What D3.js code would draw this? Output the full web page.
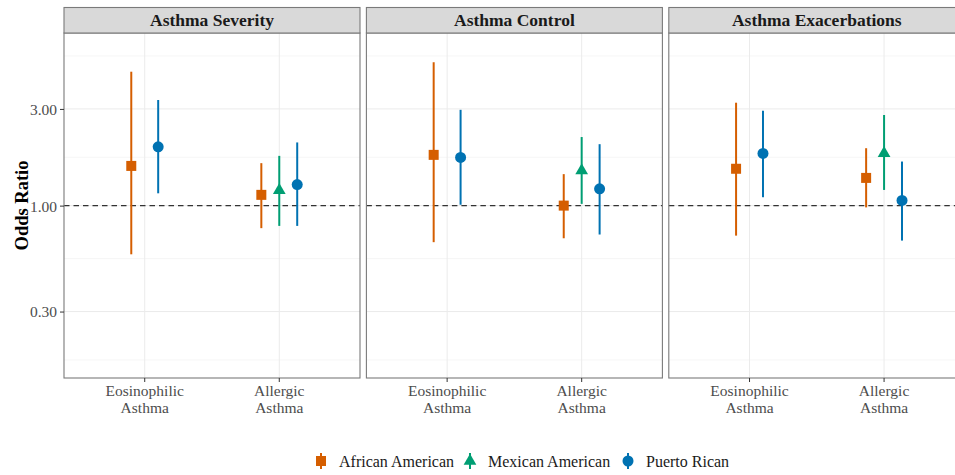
<!DOCTYPE html>
<html lang="en">
<head>
  <meta charset="UTF-8">
  <title>Odds Ratio by Asthma Phenotype</title>
  <style>
    body { margin: 0; padding: 0; background: #fff; overflow: hidden; }
    svg { display: block; font-family: "Liberation Serif", "Times New Roman", serif; }
    .grid-major { stroke: #ebebeb; stroke-width: 1; }
    .grid-minor { stroke: #f4f4f4; stroke-width: 0.8; }
    .tick-label { fill: #4d4d4d; font-size: 15.5px; }
  </style>
</head>
<body>
<div id="chart"></div>
<script src="https://d3js.org/d3.v7.min.js"></script>
<script>
  // chart data
  const panels = ["Asthma Severity", "Asthma Control", "Asthma Exacerbations"];
  const categories = ["Eosinophilic Asthma", "Allergic Asthma"];
  const categoryLabels = [["Eosinophilic", "Asthma"], ["Allergic", "Asthma"]];
  const groups = ["African American", "Mexican American", "Puerto Rican"];
  const groupColors = ["#D55E00", "#009E73", "#0072B2"];

  // one entry per estimate
  const rowPanel    = [0, 0, 0, 0, 0,   1, 1, 1, 1, 1,   2, 2, 2, 2, 2];
  const rowCategory = [0, 0, 1, 1, 1,   0, 0, 1, 1, 1,   0, 0, 1, 1, 1];
  const rowGroup    = [0, 2, 0, 1, 2,   0, 2, 0, 1, 2,   0, 2, 0, 1, 2];
  const oddsRatio   = [1.57, 1.95, 1.13, 1.19, 1.27,   1.78, 1.73, 1.00, 1.49, 1.21,   1.52, 1.81, 1.37, 1.81, 1.06];
  const lowerCI     = [0.575, 1.15, 0.774, 0.794, 0.794,   0.66, 1.01, 0.69, 1.02, 0.72,   0.711, 1.10, 0.98, 1.195, 0.672];
  const upperCI     = [4.58, 3.32, 1.62, 1.76, 2.05,   5.10, 2.97, 1.43, 2.18, 2.01,   3.22, 2.94, 1.92, 2.80, 1.65];

  const yBreaks = [0.1, 0.3, 1, 3, 10];

  const width = 955, height = 475;
  const panelLeft = 64, panelW = 296, panelGap = 6.4;
  const stripTop = 7.5, stripBottom = 33, plotBottom = 378;

  const svg = d3.select("#chart").append("svg")
      .attr("width", width)
      .attr("height", height);

  const y = d3.scaleLog()
      .domain([0.141, 7.11])
      .range([plotBottom, stripBottom]);

  const minorBreaks = d3.pairs(yBreaks).map(([a, b]) => Math.sqrt(a * b))
      .filter(v => v > y.domain()[0] && v < y.domain()[1]);
  const majorBreaks = yBreaks.filter(v => v > y.domain()[0] && v < y.domain()[1]);

  const rows = oddsRatio.map((v, i) => ({
    panel: rowPanel[i], category: rowCategory[i], group: rowGroup[i],
    or: v, lo: lowerCI[i], hi: upperCI[i]
  }));

  panels.forEach((title, p) => {
    const x0 = panelLeft + p * (panelW + panelGap);
    const g = svg.append("g").attr("transform", `translate(${x0},0)`);

    const x = d3.scalePoint()
        .domain(categories.map((c, i) => i))
        .range([0, panelW])
        .padding(0.6);
    const dodgeW = x.step() * 0.4;

    // grid
    g.selectAll(".grid-minor").data(minorBreaks).enter().append("line")
        .attr("class", "grid-minor")
        .attr("x1", 0).attr("x2", panelW)
        .attr("y1", d => y(d)).attr("y2", d => y(d));
    g.selectAll(".grid-major.h").data(majorBreaks).enter().append("line")
        .attr("class", "grid-major h")
        .attr("x1", 0).attr("x2", panelW)
        .attr("y1", d => y(d)).attr("y2", d => y(d));
    g.selectAll(".grid-major.v").data(x.domain()).enter().append("line")
        .attr("class", "grid-major v")
        .attr("x1", d => x(d)).attr("x2", d => x(d))
        .attr("y1", stripBottom).attr("y2", plotBottom);

    // reference line at OR = 1
    g.append("line")
        .attr("x1", 0).attr("x2", panelW)
        .attr("y1", y(1)).attr("y2", y(1))
        .attr("stroke", "#333")
        .attr("stroke-width", 1.4)
        .attr("stroke-dasharray", "5.5,4");

    // point ranges
    const pr = rows.filter(r => r.panel === p);
    categories.forEach((c, ci) => {
      const sub = pr.filter(r => r.category === ci);
      const dodge = d3.scaleBand()
          .domain(sub.map(r => r.group))
          .range([-dodgeW / 2, dodgeW / 2]);
      sub.forEach(r => {
        const cx = x(ci) + dodge(r.group) + dodge.bandwidth() / 2;
        const col = groupColors[r.group];
        g.append("line")
            .attr("x1", cx).attr("x2", cx)
            .attr("y1", y(r.lo)).attr("y2", y(r.hi))
            .attr("stroke", col)
            .attr("stroke-width", 2);
        drawMarker(g, r.group, cx, y(r.or), col);
      });
    });

    // panel border
    g.append("rect")
        .attr("x", 0).attr("y", stripBottom)
        .attr("width", panelW).attr("height", plotBottom - stripBottom)
        .attr("fill", "none")
        .attr("stroke", "#7a7a7a")
        .attr("stroke-width", 1.1);

    // strip
    g.append("rect")
        .attr("x", 0).attr("y", stripTop)
        .attr("width", panelW).attr("height", stripBottom - stripTop)
        .attr("fill", "#d9d9d9")
        .attr("stroke", "#7a7a7a")
        .attr("stroke-width", 1.1);
    g.append("text")
        .attr("x", panelW / 2).attr("y", (stripTop + stripBottom) / 2 + 6)
        .attr("text-anchor", "middle")
        .attr("font-weight", "bold")
        .attr("font-size", "17.5px")
        .attr("fill", "#1a1a1a")
        .text(title);

    // x axis ticks and labels
    x.domain().forEach(ci => {
      g.append("line")
          .attr("x1", x(ci)).attr("x2", x(ci))
          .attr("y1", plotBottom).attr("y2", plotBottom + 4)
          .attr("stroke", "#333");
      const t = g.append("text")
          .attr("class", "tick-label")
          .attr("text-anchor", "middle")
          .attr("x", x(ci)).attr("y", 396);
      categoryLabels[ci].forEach((line, li) => {
        t.append("tspan").attr("x", x(ci)).attr("dy", li === 0 ? 0 : 16.5).text(line);
      });
    });

    // y axis on first panel only
    if (p === 0) {
      const yAxis = d3.axisLeft(y)
          .tickValues(majorBreaks)
          .tickFormat(d3.format(".2f"))
          .tickSize(4)
          .tickPadding(3);
      const ax = g.append("g").call(yAxis)
          .attr("font-family", null)
          .attr("font-size", null);
      ax.select(".domain").remove();
      ax.selectAll("line").attr("stroke", "#333");
      ax.selectAll("text")
          .attr("class", "tick-label")
          .attr("fill", null)
          .attr("dy", "0.35em");
    }
  });

  function drawMarker(sel, group, cx, cy, col) {
    if (group === 0) {
      sel.append("rect")
          .attr("x", cx - 5).attr("y", cy - 5)
          .attr("width", 10).attr("height", 10)
          .attr("fill", col);
    } else if (group === 1) {
      sel.append("path")
          .attr("d", d3.symbol(d3.symbolTriangle, 70)())
          .attr("transform", `translate(${cx},${cy})`)
          .attr("fill", col);
    } else {
      sel.append("circle")
          .attr("cx", cx).attr("cy", cy).attr("r", 5.5)
          .attr("fill", col);
    }
  }

  // y axis title
  svg.append("text")
      .attr("transform", `translate(22,${(stripBottom + plotBottom) / 2}) rotate(-90)`)
      .attr("text-anchor", "middle")
      .attr("dy", "0.35em")
      .attr("font-weight", "bold")
      .attr("font-size", "18.5px")
      .attr("fill", "#000")
      .text("Odds Ratio");

  // legend
  const legendX = [321, 470, 628];
  const legendY = 461;
  groups.forEach((name, i) => {
    const lg = svg.append("g");
    lg.append("line")
        .attr("x1", legendX[i]).attr("x2", legendX[i])
        .attr("y1", legendY - 8).attr("y2", legendY + 8)
        .attr("stroke", groupColors[i])
        .attr("stroke-width", 2);
    drawMarker(lg, i, legendX[i], legendY, groupColors[i]);
    lg.append("text")
        .attr("x", legendX[i] + 18).attr("y", legendY)
        .attr("dy", "0.35em")
        .attr("font-size", "16px")
        .attr("fill", "#1a1a1a")
        .text(name);
  });
</script>
</body>
</html>
